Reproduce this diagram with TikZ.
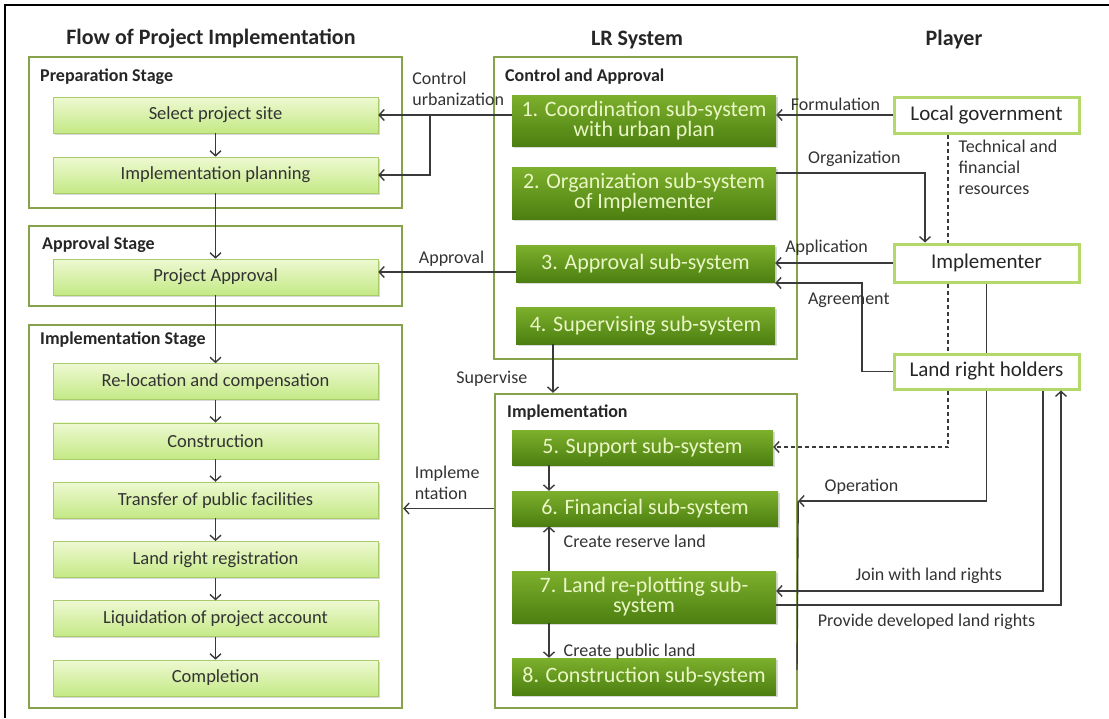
\documentclass[tikz,border=0pt]{standalone}
\usepackage{fontspec}
\setmainfont{Carlito}
\usepackage{tikz}
\usetikzlibrary{arrows.meta, shadows}

\definecolor{stageline}{HTML}{86A24B}
\definecolor{lightA}{HTML}{EEF9D2}
\definecolor{lightB}{HTML}{C4E985}
\definecolor{lightline}{HTML}{A9CB6A}
\definecolor{darkA}{HTML}{7DB02C}
\definecolor{darkB}{HTML}{4C7F10}
\definecolor{darktext}{HTML}{EAF6C6}
\definecolor{playerline}{HTML}{B4D86A}
\definecolor{wire}{HTML}{3A3A3A}

\tikzstyle{stage} = [rectangle, draw=stageline, line width=2.4pt, inner sep=0pt]
\tikzstyle{stagename} = [anchor=base west, inner sep=0pt, font=\fontsize{18}{20}\selectfont\bfseries, text=black!85]
\tikzstyle{heading} = [anchor=base, inner sep=0pt, font=\fontsize{22}{24}\selectfont\bfseries, text=black!85]
\tikzstyle{flowstep} = [rectangle, minimum width=325pt, minimum height=36pt, text centered, draw=lightline, line width=0.6pt, top color=lightA, bottom color=lightB, drop shadow={opacity=0.3, shadow xshift=1.5pt, shadow yshift=-1.5pt}, font=\fontsize{18.5}{20}\selectfont, text=black!80]
\tikzstyle{subsys} = [rectangle, minimum width=264pt, minimum height=36pt, align=center, top color=darkA, bottom color=darkB, text=darktext, drop shadow={opacity=0.3, shadow xshift=1.5pt, shadow yshift=-1.5pt}, font=\fontsize{22}{20}\selectfont]
\tikzstyle{player} = [rectangle, minimum width=185pt, minimum height=36pt, draw=playerline, line width=3pt, fill=white, font=\fontsize{21}{24}\selectfont, text=black!85]
\tikzstyle{lbl} = [inner sep=0pt, font=\fontsize{18}{21}\selectfont, text=black!80]
\tikzstyle{line} = [draw=wire, line width=1.4pt]
\tikzstyle{arrow} = [line, -{Straight Barb[length=5pt, width=11pt]}]

\begin{document}
\begin{tikzpicture}[node distance=59.3pt, x=1pt, y=-1pt]
    \useasboundingbox (0,0) rectangle (1109,718);
    \draw [line width=2pt] (5,718) -- (5,5) -- (1109,5);

    % column titles
    \node (flowtitle) [heading] at (211,44) {Flow of Project Implementation};
    \node (lrtitle) [heading] at (637,45) {LR System};
    \node (playertitle) [heading] at (954,45) {Player};

    % stages
    \node (prepstage) [stage, minimum width=373pt, minimum height=151pt] at (215.5,132.5) {};
    \node (apprstage) [stage, minimum width=373pt, minimum height=80pt] at (215.5,266) {};
    \node (implstage) [stage, minimum width=373pt, minimum height=383pt] at (215.5,516.5) {};
    \node (prepname) [stagename] at (40,81) {Preparation Stage};
    \node (apprname) [stagename] at (42,249) {Approval Stage};
    \node (implname) [stagename] at (40,344) {Implementation Stage};

    \node (site) [flowstep] at (215.5,115) {Select project site};
    \node (planning) [flowstep, below of=site, node distance=60pt] {Implementation planning};
    \node (papproval) [flowstep] at (215.5,277) {Project Approval};
    \node (reloc) [flowstep] at (215.5,381.5) {Re-location and compensation};
    \node (constr) [flowstep, below of=reloc] {Construction};
    \node (transfer) [flowstep, below of=constr] {Transfer of public facilities};
    \node (registr) [flowstep, below of=transfer] {Land right registration};
    \node (liquid) [flowstep, below of=registr] {Liquidation of project account};
    \node (complete) [flowstep, below of=liquid] {Completion};

    % LR system
    \node (ctrlbox) [stage, minimum width=303pt, minimum height=302pt] at (645.5,208) {};
    \node (implbox) [stage, minimum width=302pt, minimum height=314pt] at (646,551) {};
    \node (ctrlname) [stagename] at (505,81) {Control and Approval};
    \node (implname2) [stagename] at (507,417) {Implementation};

    \node (coord) [subsys, minimum height=51pt] at (644,120.5) {1. Coordination sub-system\\with urban plan};
    \node (organ) [subsys, minimum height=52pt] at (644,193) {2. Organization sub-system\\of Implementer};
    \node (apprsys) [subsys, minimum width=259pt, minimum height=37pt] at (645.5,263.5) {3. Approval sub-system};
    \node (supsys) [subsys, minimum width=259pt, minimum height=37pt] at (645.5,325.5) {4. Supervising sub-system};
    \node (support) [subsys, minimum width=261pt, minimum height=35pt] at (642.5,447.5) {5. Support sub-system};
    \node (financ) [subsys, minimum width=266pt, minimum height=35pt] at (645,508.5) {6. Financial sub-system};
    \node (replot) [subsys, minimum height=52pt] at (644,597) {7. Land re-plotting sub-\\system};
    \node (constrsys) [subsys, minimum height=37pt] at (644,676.5) {8. Construction sub-system};

    % players
    \node (localgov) [player] at (986.5,115) {Local government};
    \node (implementer) [player, minimum height=38pt] at (986.5,263) {Implementer};
    \node (holders) [player, minimum height=35pt] at (986.5,371.5) {Land right holders};

    \coordinate (cu) at (430,115);
    \coordinate (appr) at (450,272);
    \coordinate (orgturn) at (925,173);
    \coordinate (res) at (948,447);
    \coordinate (agr) at (862,283);
    \coordinate (supx) at (553,370);
    \coordinate (inx) at (549,550);
    \coordinate (op) at (986.5,501);
    \coordinate (opend) at (797,670);
    \coordinate (join) at (1043,591);
    \coordinate (prov) at (1061,605);

    % flow
    \draw [arrow] (site) -- (planning);
    \draw [arrow] (planning) -- (papproval);
    \draw [arrow] (papproval) -- (reloc);
    \draw [arrow] (reloc) -- (constr);
    \draw [arrow] (constr) -- (transfer);
    \draw [arrow] (transfer) -- (registr);
    \draw [arrow] (registr) -- (liquid);
    \draw [arrow] (liquid) -- (complete);

    % LR system to flow
    \draw [arrow] (coord.west |- site) -- node[lbl, pos=0.75, anchor=south west, yshift=9pt, align=left] {Control\\urbanization} (site);
    \draw [arrow] (cu) |- (planning);
    \draw [arrow] (apprsys.west |- appr) -- node[lbl, pos=0.71, anchor=base west, yshift=9pt] {Approval} (papproval.east |- appr);
    \draw [arrow] (supsys.south -| supx) -- node[lbl, pos=0.8, anchor=base east, xshift=-25pt] {Supervise} (implbox.north -| supx);
    \draw [arrow] (implbox.west |- financ) -- node[lbl, pos=0.88, anchor=south west, yshift=8pt, align=left] {Impleme\\ntation} (implstage.east |- financ);
    \draw [arrow] (support.south -| inx) -- (financ.north -| inx);
    \draw [arrow] (replot.north -| inx) -- node[lbl, pos=0.53, anchor=base west, xshift=14pt] {Create reserve land} (financ.south -| inx);
    \draw [arrow] (replot.south -| inx) -- node[lbl, pos=0.97, anchor=base west, xshift=14pt] {Create public land} (constrsys.north -| inx);

    % players to LR system
    \draw [arrow] (localgov.west) -- node[lbl, pos=0.88, anchor=base west, yshift=5pt] {Formulation} (coord.east |- localgov);
    \draw [arrow] (organ.east |- orgturn) -- node[lbl, pos=0.21, anchor=base west, yshift=10pt] {Organization} (orgturn) -- (implementer.north -| orgturn);
    \draw [line, dash pattern=on 4pt off 3pt] (localgov.south -| res) -- node[lbl, pos=0.04, anchor=north west, xshift=10pt, align=left] {Technical and\\financial\\resources} (implementer.north -| res);
    \draw [line, dash pattern=on 4pt off 3pt] (implementer.south -| res) -- (holders.north -| res);
    \draw [arrow, dash pattern=on 4pt off 3pt] (holders.south -| res) -- (res) -- (support.east |- res);
    \draw [arrow] (implementer.west) -- node[lbl, pos=0.92, anchor=base west, yshift=11pt] {Application} (apprsys.east |- implementer);
    \draw [arrow] (holders.west) -| (agr) -- node[lbl, pos=0.63, anchor=base west, yshift=-21pt] {Agreement} (apprsys.east |- agr);
    \draw [line] (implementer.south) -- (holders.north);
    \draw [arrow] (holders.south) -- (op) -- node[lbl, pos=0.863, anchor=base west, yshift=10pt] {Operation} (implbox.east |- op);
    \draw [line] (implbox.east |- op) -- (opend);
    \draw [arrow] (holders.south -| join) -- (join) -- node[lbl, pos=0.705, anchor=base west, yshift=11pt] {Join with land rights} (replot.east |- join);
    \draw [arrow] (replot.east |- prov) -- node[lbl, pos=0.144, anchor=base west, yshift=-21pt] {Provide developed land rights} (prov) -- (holders.south -| prov);
\end{tikzpicture}
\end{document}
